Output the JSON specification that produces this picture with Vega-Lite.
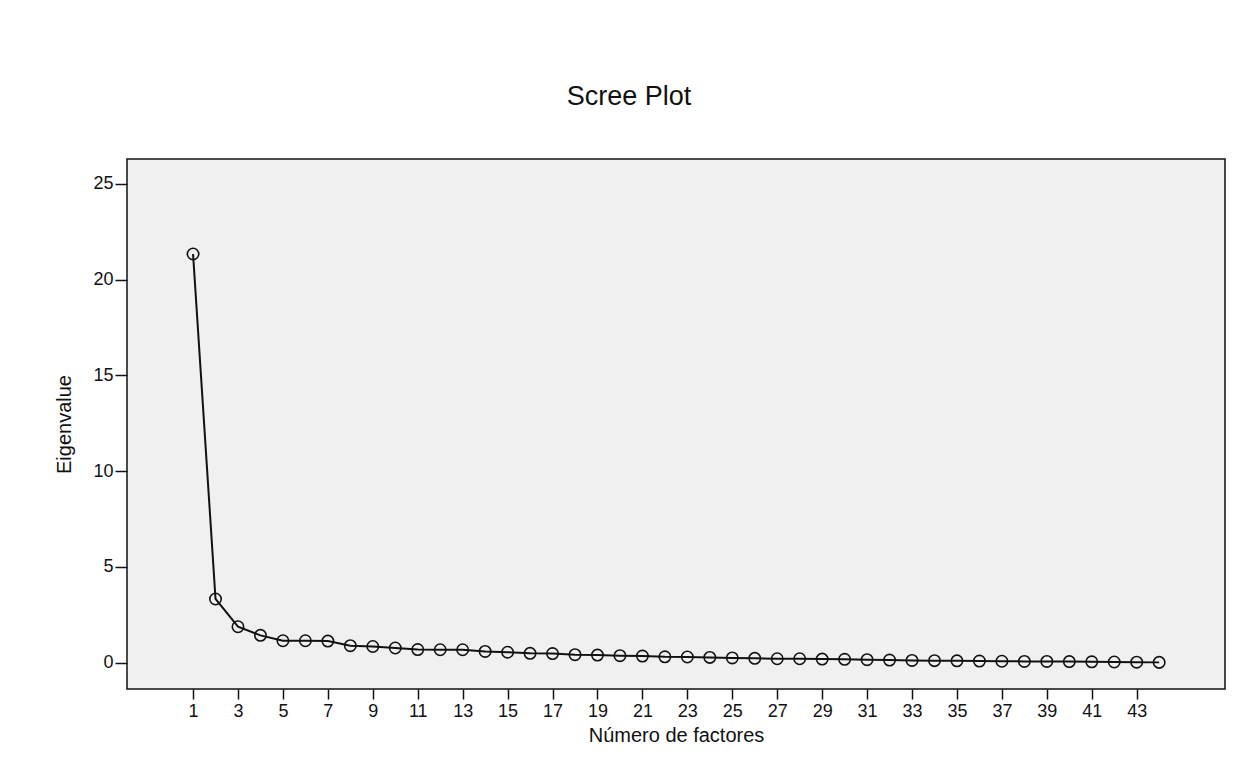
{
  "$schema": "https://vega.github.io/schema/vega-lite/v6.json",
  "width": 1098,
  "height": 530,
  "autosize": {"type": "none"},
  "padding": {"left": 127, "top": 159, "right": 10, "bottom": 83},
  "background": "white",
  "config": {
    "font": "Liberation Sans",
    "view": {"fill": "#F0F0F0", "stroke": "#111111", "strokeWidth": 1.5},
    "axis": {"domain": false, "grid": false, "tickColor": "#111111", "tickWidth": 1.5, "tickSize": 12, "labelFontSize": 18, "labelColor": "#111111", "titleFontSize": 20, "titleFontWeight": "normal", "titleColor": "#111111"}
  },
  "title": {"text": "Scree Plot", "fontSize": 27, "fontWeight": "normal", "color": "#111111", "anchor": "middle", "frame": "group", "offset": 48, "dx": -47},
  "data": {"values": [
    {"f": 1, "e": 21.34}, {"f": 2, "e": 3.33}, {"f": 3, "e": 1.88}, {"f": 4, "e": 1.43},
    {"f": 5, "e": 1.15}, {"f": 6, "e": 1.15}, {"f": 7, "e": 1.13}, {"f": 8, "e": 0.89},
    {"f": 9, "e": 0.85}, {"f": 10, "e": 0.77}, {"f": 11, "e": 0.69}, {"f": 12, "e": 0.68},
    {"f": 13, "e": 0.68}, {"f": 14, "e": 0.59}, {"f": 15, "e": 0.55}, {"f": 16, "e": 0.49},
    {"f": 17, "e": 0.48}, {"f": 18, "e": 0.42}, {"f": 19, "e": 0.40}, {"f": 20, "e": 0.37},
    {"f": 21, "e": 0.35}, {"f": 22, "e": 0.31}, {"f": 23, "e": 0.30}, {"f": 24, "e": 0.28},
    {"f": 25, "e": 0.25}, {"f": 26, "e": 0.23}, {"f": 27, "e": 0.21}, {"f": 28, "e": 0.21},
    {"f": 29, "e": 0.19}, {"f": 30, "e": 0.18}, {"f": 31, "e": 0.16}, {"f": 32, "e": 0.14},
    {"f": 33, "e": 0.12}, {"f": 34, "e": 0.11}, {"f": 35, "e": 0.10}, {"f": 36, "e": 0.09},
    {"f": 37, "e": 0.08}, {"f": 38, "e": 0.07}, {"f": 39, "e": 0.07}, {"f": 40, "e": 0.06},
    {"f": 41, "e": 0.05}, {"f": 42, "e": 0.04}, {"f": 43, "e": 0.03}, {"f": 44, "e": 0.02}
  ]},
  "encoding": {
    "x": {"field": "f", "type": "quantitative", "scale": {"domain": [-1.94, 46.93], "nice": false, "zero": false},
      "axis": {"title": "Número de factores", "values": [1,3,5,7,9,11,13,15,17,19,21,23,25,27,29,31,33,35,37,39,41,43], "tickSize": 10, "labelPadding": 3, "titlePadding": 5}},
    "y": {"field": "e", "type": "quantitative", "scale": {"domain": [-1.37, 26.3], "nice": false, "zero": false},
      "axis": {"title": "Eigenvalue", "values": [0, 5, 10, 15, 20, 25], "labelPadding": 2, "titlePadding": 18}}
  },
  "layer": [
    {"mark": {"type": "line", "color": "#111111", "strokeWidth": 2}},
    {"mark": {"type": "point", "shape": "circle", "size": 130, "filled": false, "stroke": "#111111", "strokeWidth": 1.6, "opacity": 1}}
  ]
}
